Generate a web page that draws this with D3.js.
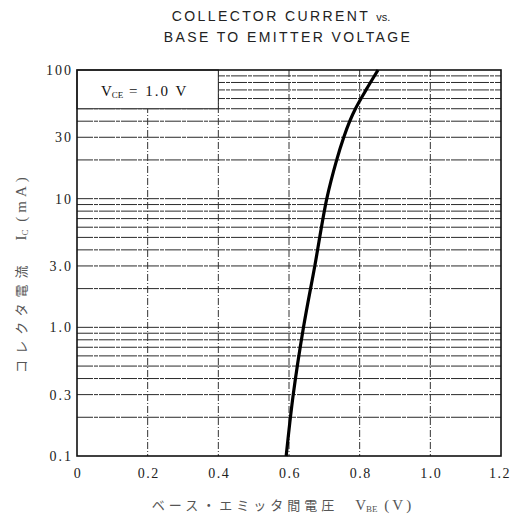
<!DOCTYPE html>
<html><head><meta charset="utf-8">
<script src="https://cdn.jsdelivr.net/npm/d3@7/dist/d3.min.js"></script>
<style>body{margin:0;background:#fff}svg{display:block}</style>
</head><body>
<svg id="c" width="512" height="515"></svg>
<script>
const vbe = [0.592, 0.612, 0.641, 0.673, 0.707, 0.735, 0.755, 0.772, 0.788, 0.818, 0.852];
const ic  = [0.1,   0.3,   1.0,   3.0,   10,    20,    30,    40,    50,    70,    100];
const xTicks = [0, 0.2, 0.4, 0.6, 0.8, 1.0, 1.2];
const xTickLabels = ["0", "0.2", "0.4", "0.6", "0.8", "1.0", "1.2"];
const yTicks = [0.1, 0.3, 1, 3, 10, 30, 100];
const yTickLabels = ["0.1", "0.3", "1.0", "3.0", "10", "30", "100"];

const svg = d3.select("#c");
const L = 77, R = 501, T = 70, B = 456;
const x = d3.scaleLinear().domain([0, 1.2]).range([L, R]);
const y = d3.scaleLog().domain([0.1, 100]).range([B, T]);

// title
const title = svg.append("g").attr("font-family", "Liberation Sans, Arial, sans-serif")
  .attr("font-size", 14).attr("fill", "#222").attr("text-anchor", "middle").attr("letter-spacing", 2.4);
const t1 = title.append("text").attr("x", 281).attr("y", 21);
t1.append("tspan").text("COLLECTOR CURRENT ");
t1.append("tspan").attr("font-size", 11).attr("letter-spacing", 0).text("vs.");
title.append("text").attr("x", 288).attr("y", 42).text("BASE TO EMITTER VOLTAGE");

// grid
const g = svg.append("g");
const minor = [];
for (let d = 0.1; d < 100; d *= 10) for (let k = 1; k <= 9; k++) minor.push(+(d * k).toPrecision(3));
g.selectAll("line.h").data(minor.filter(v => v > 0.1 && v < 100)).enter().append("line")
  .attr("x1", L).attr("x2", R).attr("y1", d => y(d)).attr("y2", d => y(d))
  .attr("stroke", "#2a2a2a").attr("stroke-width", 1).attr("stroke-dasharray", "16,1,4,1");
g.selectAll("line.v").data([0.2, 0.4, 0.6, 0.8, 1.0]).enter().append("line")
  .attr("x1", d => x(d)).attr("x2", d => x(d)).attr("y1", T).attr("y2", B)
  .attr("stroke", "#333").attr("stroke-width", 1).attr("stroke-dasharray", "7,2,1,2");

// condition box
svg.append("rect").attr("x", L).attr("y", T).attr("width", x(0.4) - L).attr("height", y(50) - T)
  .attr("fill", "#fff").attr("stroke", "#222").attr("stroke-width", 1);
const bt = svg.append("text").attr("x", 101).attr("y", 96).attr("font-family", "Liberation Serif, serif")
  .attr("font-size", 15).attr("fill", "#111");
bt.append("tspan").text("V");
bt.append("tspan").attr("font-size", 9).attr("dy", 2).text("CE");
bt.append("tspan").attr("dy", -2).attr("letter-spacing", 2).text(" = 1.0  V");

// frame
svg.append("rect").attr("x", L).attr("y", T).attr("width", R - L).attr("height", B - T)
  .attr("fill", "none").attr("stroke", "#111").attr("stroke-width", 1.6);

// curve
const line = d3.line().x(d => x(d[0])).y(d => y(d[1])).curve(d3.curveCatmullRom.alpha(0.5));
svg.append("path").datum(vbe.map((v, i) => [v, ic[i]])).attr("d", line)
  .attr("fill", "none").attr("stroke", "#000").attr("stroke-width", 3.2);

// axes labels
const xa = svg.append("g").attr("font-family", "Liberation Serif, serif").attr("font-size", 14)
  .attr("fill", "#222").attr("text-anchor", "middle").attr("letter-spacing", 1.5);
xa.selectAll("text").data(xTicks).enter().append("text")
  .attr("x", (d, i) => x(d) + (i === xTicks.length - 1 ? -1 : 1)).attr("y", 478).text((d, i) => xTickLabels[i]);
const ya = svg.append("g").attr("font-family", "Liberation Serif, serif").attr("font-size", 14)
  .attr("fill", "#222").attr("text-anchor", "end").attr("letter-spacing", 2);
ya.selectAll("text").data(yTicks).enter().append("text")
  .attr("x", 73).attr("y", d => y(d) + 5).text((d, i) => yTickLabels[i]);

// x title
const xt = svg.append("text").attr("x", 283).attr("y", 510).attr("text-anchor", "middle")
  .attr("font-family", "Noto Sans CJK JP, sans-serif").attr("font-size", 13).attr("fill", "#555");
xt.append("tspan").attr("letter-spacing", 4).text("ベース・エミッタ間電圧　");
xt.append("tspan").attr("font-family", "Liberation Serif, serif").attr("font-size", 15).text("V");
xt.append("tspan").attr("font-family", "Liberation Serif, serif").attr("font-size", 9).attr("dy", 2).text("BE");
xt.append("tspan").attr("font-family", "Liberation Serif, serif").attr("font-size", 15).attr("dy", -2).attr("letter-spacing", 3).text(" (V)");

// y title
const yt = svg.append("text").attr("transform", "translate(26,273) rotate(-90)").attr("text-anchor", "middle")
  .attr("font-family", "Noto Sans CJK JP, sans-serif").attr("font-size", 13).attr("fill", "#555");
yt.append("tspan").attr("letter-spacing", 6).text("コレクタ電流　");
yt.append("tspan").attr("font-family", "Liberation Serif, serif").attr("font-size", 15).text("I");
yt.append("tspan").attr("font-family", "Liberation Serif, serif").attr("font-size", 9).attr("dy", 2).text("C");
yt.append("tspan").attr("font-family", "Liberation Serif, serif").attr("font-size", 15).attr("dy", -2).attr("letter-spacing", 4).text("  (mA)");
</script>
</body></html>
